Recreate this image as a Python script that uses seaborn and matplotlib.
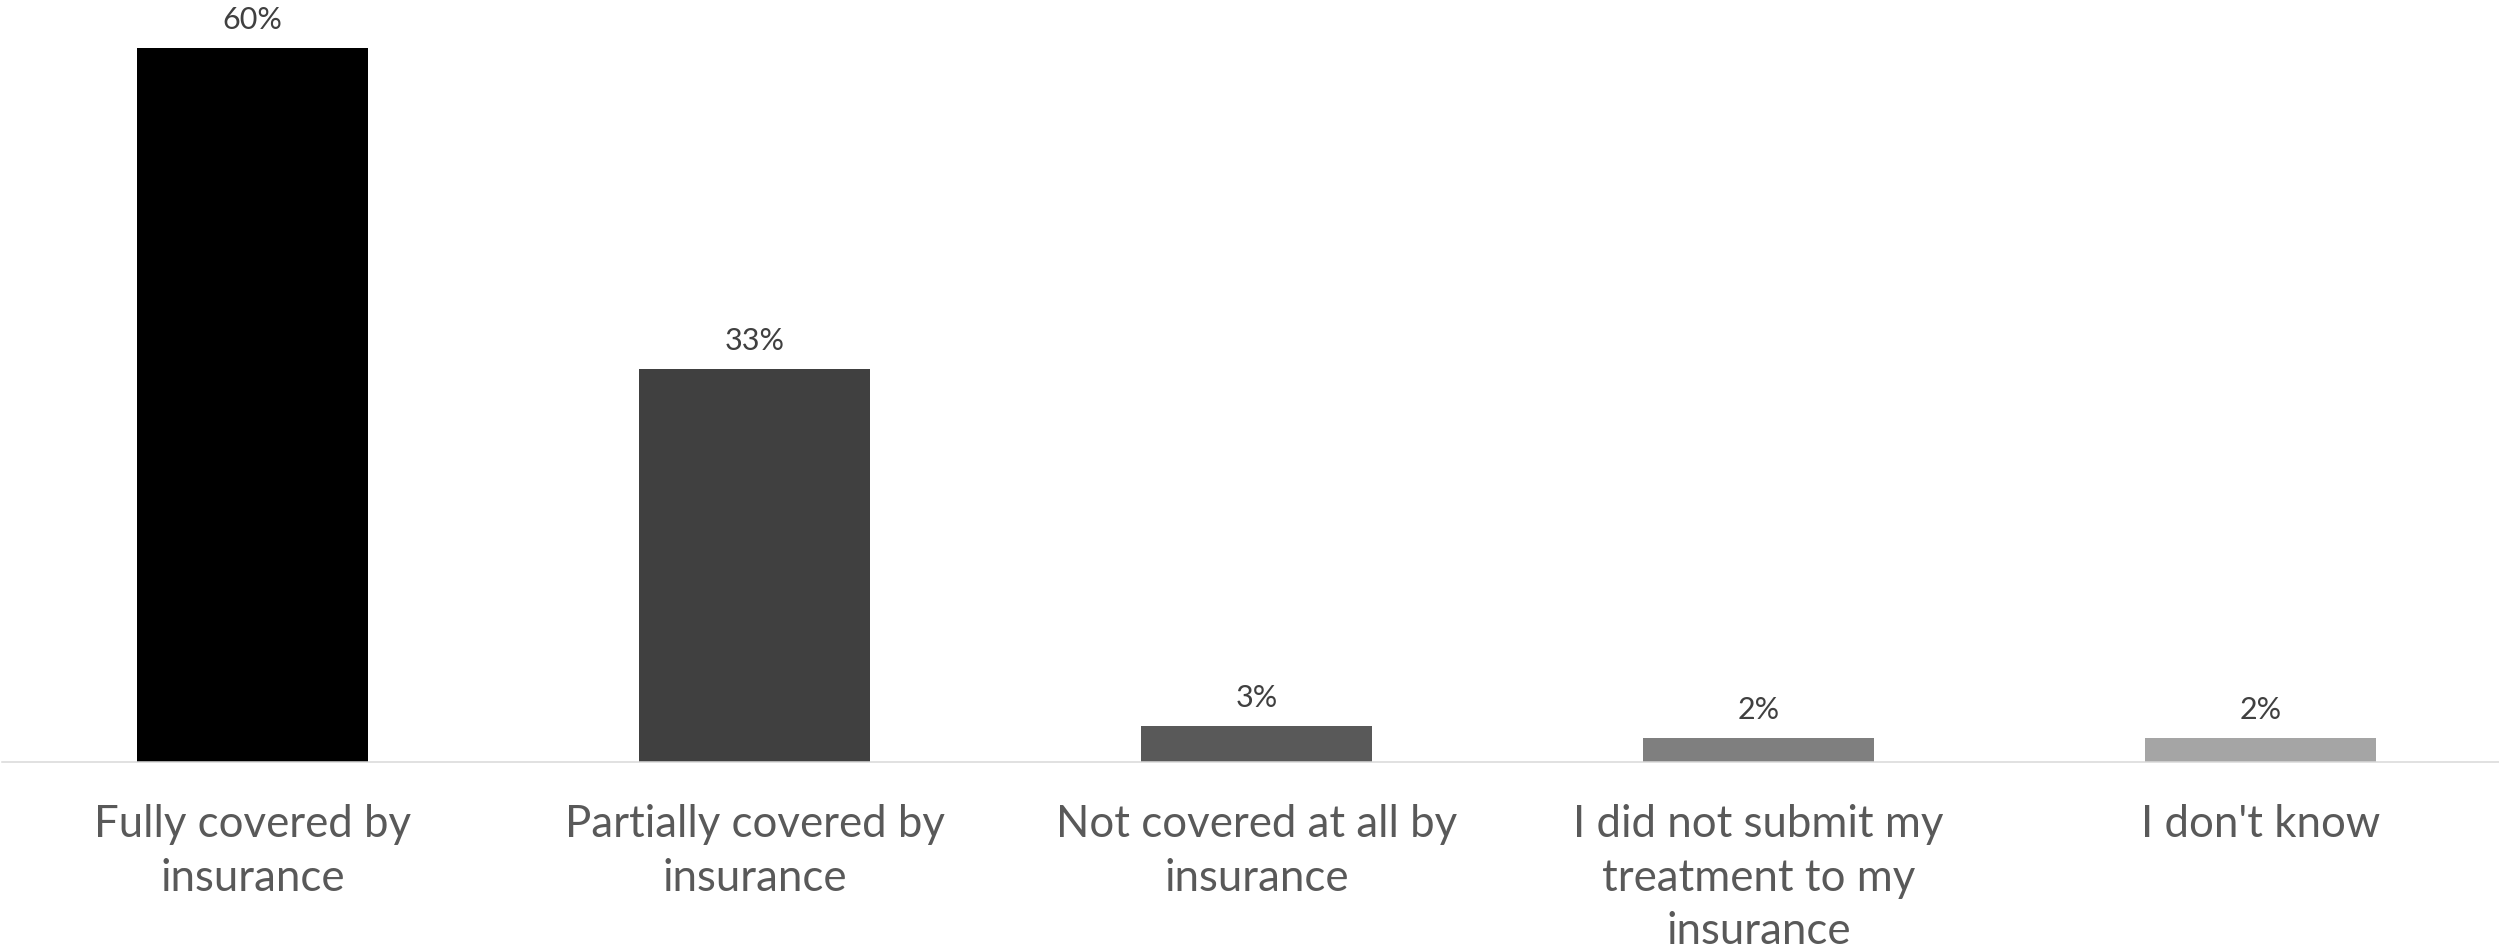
import matplotlib
matplotlib.use("Agg")
import matplotlib.pyplot as plt
import seaborn as sns
import pandas as pd

categories = [
    "Fully covered by\ninsurance",
    "Partially covered by\ninsurance",
    "Not covered at all by\ninsurance",
    "I did not submit my\ntreatment to my\ninsurance",
    "I don't know",
]
values = [60, 33, 3, 2, 2]
value_labels = ["60%", "33%", "3%", "2%", "2%"]
bar_colors = ["#000000", "#404040", "#595959", "#7f7f7f", "#a5a5a5"]

sns.set_theme(style="white")
plt.rcParams["font.family"] = ["Lato", "DejaVu Sans"]

W, H, DPI = 2499, 952, 100
fig = plt.figure(figsize=(W / DPI, H / DPI), dpi=DPI)
ax = fig.add_axes([1.5 / W, (H - 762) / H, 2510 / W, 762 / H])

df = pd.DataFrame({"category": categories, "value": values})
sns.barplot(data=df, x="category", y="value", hue="category",
            palette=bar_colors, width=0.46, legend=False, ax=ax,
            saturation=1, linewidth=0)

ax.set_xlim(-0.5, 4.5)
ax.set_ylim(0, 64.03)

for i, (v, lab) in enumerate(zip(values, value_labels)):
    ax.annotate(lab, xy=(i, v), xytext=(0, 13.7), textcoords="offset points",
                ha="center", va="baseline", fontsize=22, color="#404040")

ax.set_xlabel("")
ax.set_ylabel("")
ax.set_yticks([])
ax.tick_params(axis="x", length=0, pad=30, labelsize=31.5, labelcolor="#595959")
for t in ax.get_xticklabels():
    t.set_linespacing(1.39)

for s in ["top", "left", "right"]:
    ax.spines[s].set_visible(False)
ax.spines["bottom"].set_color("#d9d9d9")
ax.spines["bottom"].set_linewidth(1.1)

fig.savefig("out.png", dpi=DPI, facecolor="white")
